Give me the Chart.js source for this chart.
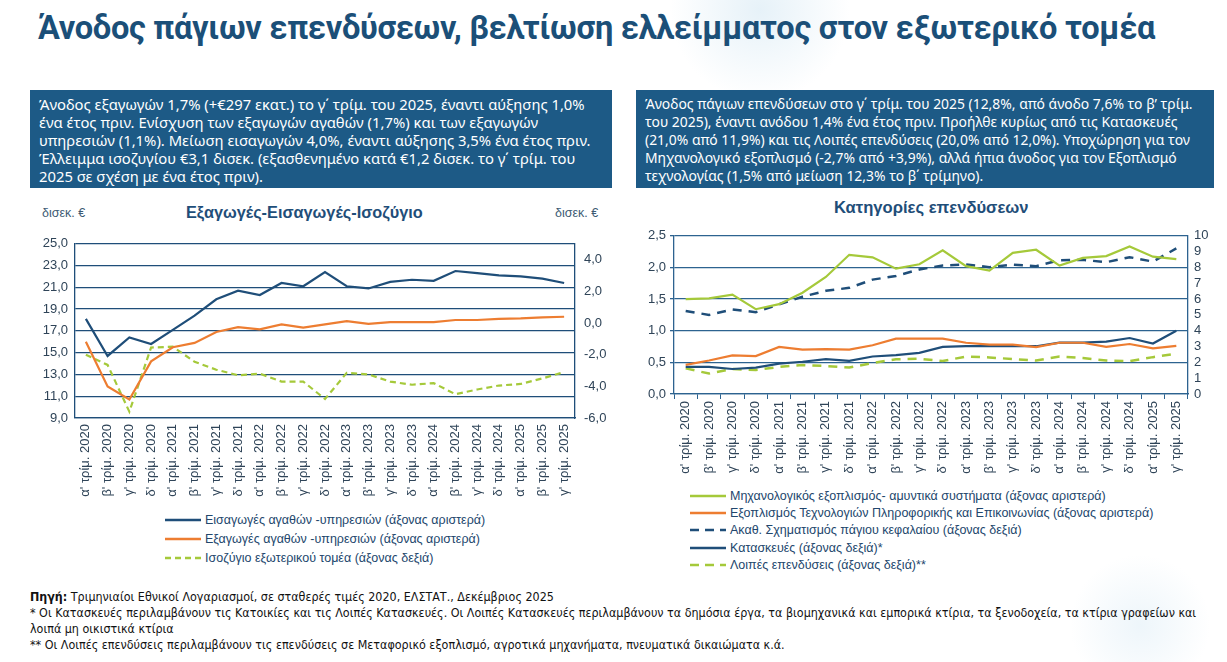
<!DOCTYPE html>
<html lang="el">
<head>
<meta charset="utf-8">
<script src="https://cdn.jsdelivr.net/npm/chart.js@4.4.1/dist/chart.umd.min.js"></script>
<style>
    body {
        margin: 0;
        width: 1227px;
        height: 662px;
        position: relative;
        overflow: hidden;
        background: #ffffff;
        background-image: radial-gradient(circle at 760px 10px, rgba(200, 225, 240, 0.45) 0, rgba(255,255,255,0) 90px),
                          radial-gradient(circle at 1140px 625px, rgba(205, 228, 242, 0.35) 0, rgba(255,255,255,0) 70px);
        font-family: "Noto Sans", sans-serif;
    }
    .abs { position: absolute; }
    #titlos {
        left: 38px; top: 9px;
        font-family: Roboto, sans-serif;
        font-weight: 700;
        font-size: 32.6px;
        color: #1b4f78;
        white-space: nowrap;
        letter-spacing: -0.3px;
    }
    .kouti {
        background: #1d5a86;
        color: #ffffff;
        line-height: 18px;
        padding: 5px 9px;
        box-sizing: border-box;
        white-space: nowrap;
        overflow: hidden;
    }
    .titlosGrafikou {
        font-family: "Liberation Sans", Arial, sans-serif;
        font-weight: 700;
        color: #1f4e79;
        white-space: nowrap;
    }
    .monada {
        font-family: "Liberation Sans", Arial, sans-serif;
        font-size: 12.5px;
        color: #3d5a73;
    }
    .ypomnima {
        font-family: "Liberation Sans", Arial, sans-serif;
        font-size: 12.5px;
        color: #22466c;
        white-space: nowrap;
    }
    .ypomnima div { display: flex; align-items: center; }
    .ypomnima svg { margin-right: 4px; }
    #simeioseis {
        left: 30px; top: 589px;
        font-family: "DejaVu Sans Condensed", "Liberation Sans Narrow", sans-serif;
        font-size: 12.4px;
        line-height: 16px;
        color: #111;
        white-space: nowrap;
    }
</style>
</head>
<body>

<div id="titlos" class="abs">Άνοδος πάγιων επενδύσεων, βελτίωση ελλείμματος στον εξωτερικό τομέα</div>

<div class="abs kouti" style="left:30px; top:90px; width:582px; height:98px; font-size:14.8px;">
Άνοδος εξαγωγών 1,7% (+€297 εκατ.) το γ΄ τρίμ. του 2025, έναντι αύξησης 1,0%<br>
ένα έτος πριν. Ενίσχυση των εξαγωγών αγαθών (1,7%) και των εξαγωγών<br>
υπηρεσιών (1,1%). Μείωση εισαγωγών 4,0%, έναντι αύξησης 3,5% ένα έτος πριν.<br>
Έλλειμμα ισοζυγίου €3,1 δισεκ. (εξασθενημένο κατά €1,2 δισεκ. το γ΄ τρίμ. του<br>
2025 σε σχέση με ένα έτος πριν).
</div>

<div class="abs kouti" style="left:636px; top:90px; width:578px; height:98px; font-size:13.9px;">
Άνοδος πάγιων επενδύσεων στο γ΄ τρίμ. του 2025 (12,8%, από άνοδο 7,6% το β’ τρίμ.<br>
του 2025), έναντι ανόδου 1,4% ένα έτος πριν. Προήλθε κυρίως από τις Κατασκευές<br>
(21,0% από 11,9%) και τις Λοιπές επενδύσεις (20,0% από 12,0%). Υποχώρηση για τον<br>
Μηχανολογικό εξοπλισμό (-2,7% από +3,9%), αλλά ήπια άνοδος για τον Εξοπλισμό<br>
τεχνολογίας (1,5% από μείωση 12,3% το β΄ τρίμηνο).
</div>

<div class="abs monada" style="left:42px; top:206px;">δισεκ. €</div>
<div class="abs titlosGrafikou" style="left:186px; top:203px; font-size:16.3px;">Εξαγωγές-Εισαγωγές-Ισοζύγιο</div>
<div class="abs monada" style="left:555px; top:206px;">δισεκ. €</div>

<div class="abs titlosGrafikou" style="left:834px; top:198px; font-size:16.6px;">Κατηγορίες επενδύσεων</div>

<div class="abs" style="left:30px; top:227px;"><canvas id="grafima1" width="590" height="281"></canvas></div>
<div class="abs" style="left:630px; top:222px;"><canvas id="grafima2" width="590" height="252"></canvas></div>

<div class="abs ypomnima" style="left:165px; top:510px;">
    <div style="height:19px"><svg width="36" height="4"><line x1="0" y1="2" x2="36" y2="2" stroke="#1f4e79" stroke-width="2.5"/></svg>Εισαγωγές αγαθών -υπηρεσιών (άξονας αριστερά)</div>
    <div style="height:19px"><svg width="36" height="4"><line x1="0" y1="2" x2="36" y2="2" stroke="#ed7d31" stroke-width="2.5"/></svg>Εξαγωγές αγαθών -υπηρεσιών (άξονας αριστερά)</div>
    <div style="height:19px"><svg width="36" height="4"><line x1="0" y1="2" x2="36" y2="2" stroke="#a5c93a" stroke-width="2.5" stroke-dasharray="6 4"/></svg>Ισοζύγιο εξωτερικού τομέα (άξονας δεξιά)</div>
</div>

<div class="abs ypomnima" style="left:690px; top:487px;">
    <div style="height:17.3px"><svg width="36" height="4"><line x1="0" y1="2" x2="36" y2="2" stroke="#a5c93a" stroke-width="2.5"/></svg>Μηχανολογικός εξοπλισμός- αμυντικά συστήματα (άξονας αριστερά)</div>
    <div style="height:17.3px"><svg width="36" height="4"><line x1="0" y1="2" x2="36" y2="2" stroke="#ed7d31" stroke-width="2.5"/></svg>Εξοπλισμός Τεχνολογιών Πληροφορικής και Επικοινωνίας (άξονας αριστερά)</div>
    <div style="height:17.3px"><svg width="36" height="4"><line x1="0" y1="2" x2="36" y2="2" stroke="#1f4e79" stroke-width="2.5" stroke-dasharray="9 6"/></svg>Ακαθ. Σχηματισμός πάγιου κεφαλαίου (άξονας δεξιά)</div>
    <div style="height:17.3px"><svg width="36" height="4"><line x1="0" y1="2" x2="36" y2="2" stroke="#1f4e79" stroke-width="2.5"/></svg>Κατασκευές (άξονας δεξιά)*</div>
    <div style="height:17.3px"><svg width="36" height="4"><line x1="0" y1="2" x2="36" y2="2" stroke="#a5c93a" stroke-width="2.5" stroke-dasharray="9 6"/></svg>Λοιπές επενδύσεις (άξονας δεξιά)**</div>
</div>

<div id="simeioseis" class="abs">
<b>Πηγή:</b> Τριμηνιαίοι Εθνικοί Λογαριασμοί, σε σταθερές τιμές 2020, ΕΛΣΤΑΤ., Δεκέμβριος 2025<br>
* Οι Κατασκευές περιλαμβάνουν τις Κατοικίες και τις Λοιπές Κατασκευές. Οι Λοιπές Κατασκευές περιλαμβάνουν τα δημόσια έργα, τα βιομηχανικά και εμπορικά κτίρια, τα ξενοδοχεία, τα κτίρια γραφείων και<br>
λοιπά μη οικιστικά κτίρια<br>
** Οι Λοιπές επενδύσεις περιλαμβάνουν τις επενδύσεις σε Μεταφορικό εξοπλισμό, αγροτικά μηχανήματα, πνευματικά δικαιώματα κ.ά.
</div>

<script>
// --- δεδομένα αριστερού γραφήματος (δισεκ. €) ---
const tromina = [
    "α' τρίμ. 2020", "β' τρίμ. 2020", "γ' τρίμ. 2020", "δ' τρίμ. 2020",
    "α' τρίμ. 2021", "β' τρίμ. 2021", "γ' τρίμ. 2021", "δ' τρίμ. 2021",
    "α' τρίμ. 2022", "β' τρίμ. 2022", "γ' τρίμ. 2022", "δ' τρίμ. 2022",
    "α' τρίμ. 2023", "β' τρίμ. 2023", "γ' τρίμ. 2023", "δ' τρίμ. 2023",
    "α' τρίμ. 2024", "β' τρίμ. 2024", "γ' τρίμ. 2024", "δ' τρίμ. 2024",
    "α' τρίμ. 2025", "β' τρίμ. 2025", "γ' τρίμ. 2025"
];
const eisagoges = [18.1, 14.7, 16.4, 15.8, 17.1, 18.4, 19.9, 20.7, 20.3, 21.4, 21.1, 22.4, 21.1, 20.9, 21.5, 21.7, 21.6, 22.5, 22.3, 22.1, 22.0, 21.8, 21.4];
const exagoges = [16.0, 11.9, 10.7, 14.2, 15.5, 15.9, 16.9, 17.35, 17.15, 17.6, 17.3, 17.6, 17.9, 17.65, 17.8, 17.8, 17.8, 18.0, 18.0, 18.1, 18.15, 18.25, 18.3];
const isozygio = [-2.0, -2.65, -5.6, -1.55, -1.5, -2.45, -2.95, -3.3, -3.2, -3.7, -3.7, -4.8, -3.15, -3.25, -3.7, -3.9, -3.8, -4.5, -4.2, -3.95, -3.85, -3.5, -3.1];

// --- δεδομένα δεξιού γραφήματος (το πρωτότυπο δεν έχει ετικέτα για β' τρίμ. 2025) ---
const trominaEpend = [
    "α' τρίμ. 2020", "β' τρίμ. 2020", "γ' τρίμ. 2020", "δ' τρίμ. 2020",
    "α' τρίμ. 2021", "β' τρίμ. 2021", "γ' τρίμ. 2021", "δ' τρίμ. 2021",
    "α' τρίμ. 2022", "β' τρίμ. 2022", "γ' τρίμ. 2022", "δ' τρίμ. 2022",
    "α' τρίμ. 2023", "β' τρίμ. 2023", "γ' τρίμ. 2023", "δ' τρίμ. 2023",
    "α' τρίμ. 2024", "β' τρίμ. 2024", "γ' τρίμ. 2024", "δ' τρίμ. 2024",
    "α' τρίμ. 2025", "γ' τρίμ. 2025"
];
const mixanologikos = [1.50, 1.51, 1.57, 1.34, 1.42, 1.60, 1.85, 2.20, 2.16, 1.98, 2.05, 2.27, 2.02, 1.95, 2.23, 2.28, 2.03, 2.15, 2.18, 2.33, 2.17, 2.13];
const texnologia = [0.46, 0.53, 0.61, 0.60, 0.745, 0.70, 0.71, 0.70, 0.77, 0.875, 0.875, 0.875, 0.81, 0.78, 0.78, 0.74, 0.81, 0.81, 0.745, 0.79, 0.72, 0.76];
const akathSximatismos = [5.25, 5.0, 5.35, 5.17, 5.67, 6.15, 6.52, 6.71, 7.23, 7.46, 7.87, 8.12, 8.19, 8.02, 8.17, 8.08, 8.46, 8.48, 8.33, 8.65, 8.37, 9.2];
const kataskeves = [1.71, 1.71, 1.58, 1.67, 1.92, 2.04, 2.21, 2.1, 2.37, 2.46, 2.6, 2.98, 3.02, 3.02, 3.02, 3.02, 3.25, 3.25, 3.31, 3.54, 3.19, 4.0];
const loipes = [1.62, 1.29, 1.58, 1.52, 1.71, 1.83, 1.77, 1.67, 1.96, 2.19, 2.23, 2.08, 2.37, 2.31, 2.21, 2.12, 2.37, 2.27, 2.12, 2.08, 2.33, 2.54];

const mple = '#1f4e79';
const portokali = '#ed7d31';
const prasino = '#a5c93a';
const grammataAxona = '#2f4458';
const fontAxona = { family: "'Liberation Sans', Arial, sans-serif", size: 13 };

function komma(v, dekadika) {
    return v.toFixed(dekadika).replace('.', ',');
}

function grafimaExoterikou() {
    const ctx = document.getElementById('grafima1');

    new Chart(ctx, {
        type: 'line',
        data: {
            labels: tromina,
            datasets: [{
                data: eisagoges,
                borderColor: mple,
                borderWidth: 2.2,
                yAxisID: 'y'
            }, {
                data: exagoges,
                borderColor: portokali,
                borderWidth: 2.2,
                yAxisID: 'y'
            }, {
                data: isozygio,
                borderColor: prasino,
                borderWidth: 2.2,
                borderDash: [6, 4],
                yAxisID: 'y1'
            }]
        },
        options: {
            responsive: false,
            animation: false,
            elements: { point: { radius: 0 }, line: { tension: 0 } },
            layout: { padding: { top: 0 } },
            plugins: { legend: { display: false }, tooltip: { enabled: false } },
            scales: {
                x: {
                    offset: true,
                    grid: { display: false, drawTicks: false },
                    border: { display: true, color: mple, width: 1.3 },
                    ticks: { minRotation: 90, maxRotation: 90, autoSkip: false, padding: 6, color: grammataAxona, font: fontAxona },
                    afterFit: function(s) { s.height = 90; }
                },
                y: {
                    position: 'left',
                    min: 9, max: 25,
                    ticks: { stepSize: 2, padding: 7, color: grammataAxona, font: fontAxona, callback: v => komma(v, 1) },
                    grid: { color: mple, lineWidth: 1.3, drawTicks: false },
                    border: { display: true, color: mple, width: 1.3 },
                    afterFit: function(s) { s.width = 45; }
                },
                y1: {
                    position: 'right',
                    min: -6, max: 5,
                    ticks: { stepSize: 2, padding: 9, color: grammataAxona, font: fontAxona,
                        callback: v => (v > 4 ? '' : komma(v, 1)) },
                    grid: { display: false, drawTicks: false },
                    border: { display: true, color: mple, width: 1.3 },
                    afterFit: function(s) { s.width = 45; }
                }
            }
        }
    });
}

function grafimaEpendyseon() {
    const ctx = document.getElementById('grafima2');
    const mpleGrid = '#2d6390';

    new Chart(ctx, {
        type: 'line',
        data: {
            labels: trominaEpend,
            datasets: [{
                data: mixanologikos,
                borderColor: prasino,
                borderWidth: 2.2,
                yAxisID: 'y'
            }, {
                data: texnologia,
                borderColor: portokali,
                borderWidth: 2.2,
                yAxisID: 'y'
            }, {
                data: akathSximatismos,
                borderColor: mple,
                borderWidth: 2.5,
                borderDash: [9, 7],
                yAxisID: 'y1'
            }, {
                data: kataskeves,
                borderColor: mple,
                borderWidth: 2.2,
                yAxisID: 'y1'
            }, {
                data: loipes,
                borderColor: prasino,
                borderWidth: 2.5,
                borderDash: [9, 7],
                yAxisID: 'y1'
            }]
        },
        options: {
            responsive: false,
            animation: false,
            elements: { point: { radius: 0 }, line: { tension: 0 } },
            layout: { padding: { top: 0 } },
            plugins: { legend: { display: false }, tooltip: { enabled: false } },
            scales: {
                x: {
                    offset: true,
                    grid: { display: true, offset: true, drawOnChartArea: false, drawTicks: true, tickLength: 5, color: mpleGrid },
                    border: { display: true, color: mpleGrid, width: 1.3 },
                    ticks: { minRotation: 90, maxRotation: 90, autoSkip: false, padding: 2, color: grammataAxona, font: fontAxona },
                    afterFit: function(s) { s.height = 80; }
                },
                y: {
                    position: 'left',
                    min: 0, max: 2.5,
                    ticks: { stepSize: 0.5, padding: 4, color: grammataAxona, font: fontAxona, callback: v => komma(v, 1) },
                    grid: { color: mpleGrid, lineWidth: 1.3, drawTicks: true, tickLength: 4 },
                    border: { display: true, color: mpleGrid, width: 1.3 },
                    afterFit: function(s) { s.width = 44; }
                },
                y1: {
                    position: 'right',
                    min: 0, max: 10,
                    ticks: { stepSize: 1, autoSkip: false, padding: 6, color: grammataAxona, font: fontAxona },
                    grid: { display: false, drawTicks: false },
                    border: { display: true, color: mpleGrid, width: 1.3 },
                    afterFit: function(s) { s.width = 32; }
                }
            }
        }
    });
}

grafimaExoterikou();
grafimaEpendyseon();
</script>
</body>
</html>
